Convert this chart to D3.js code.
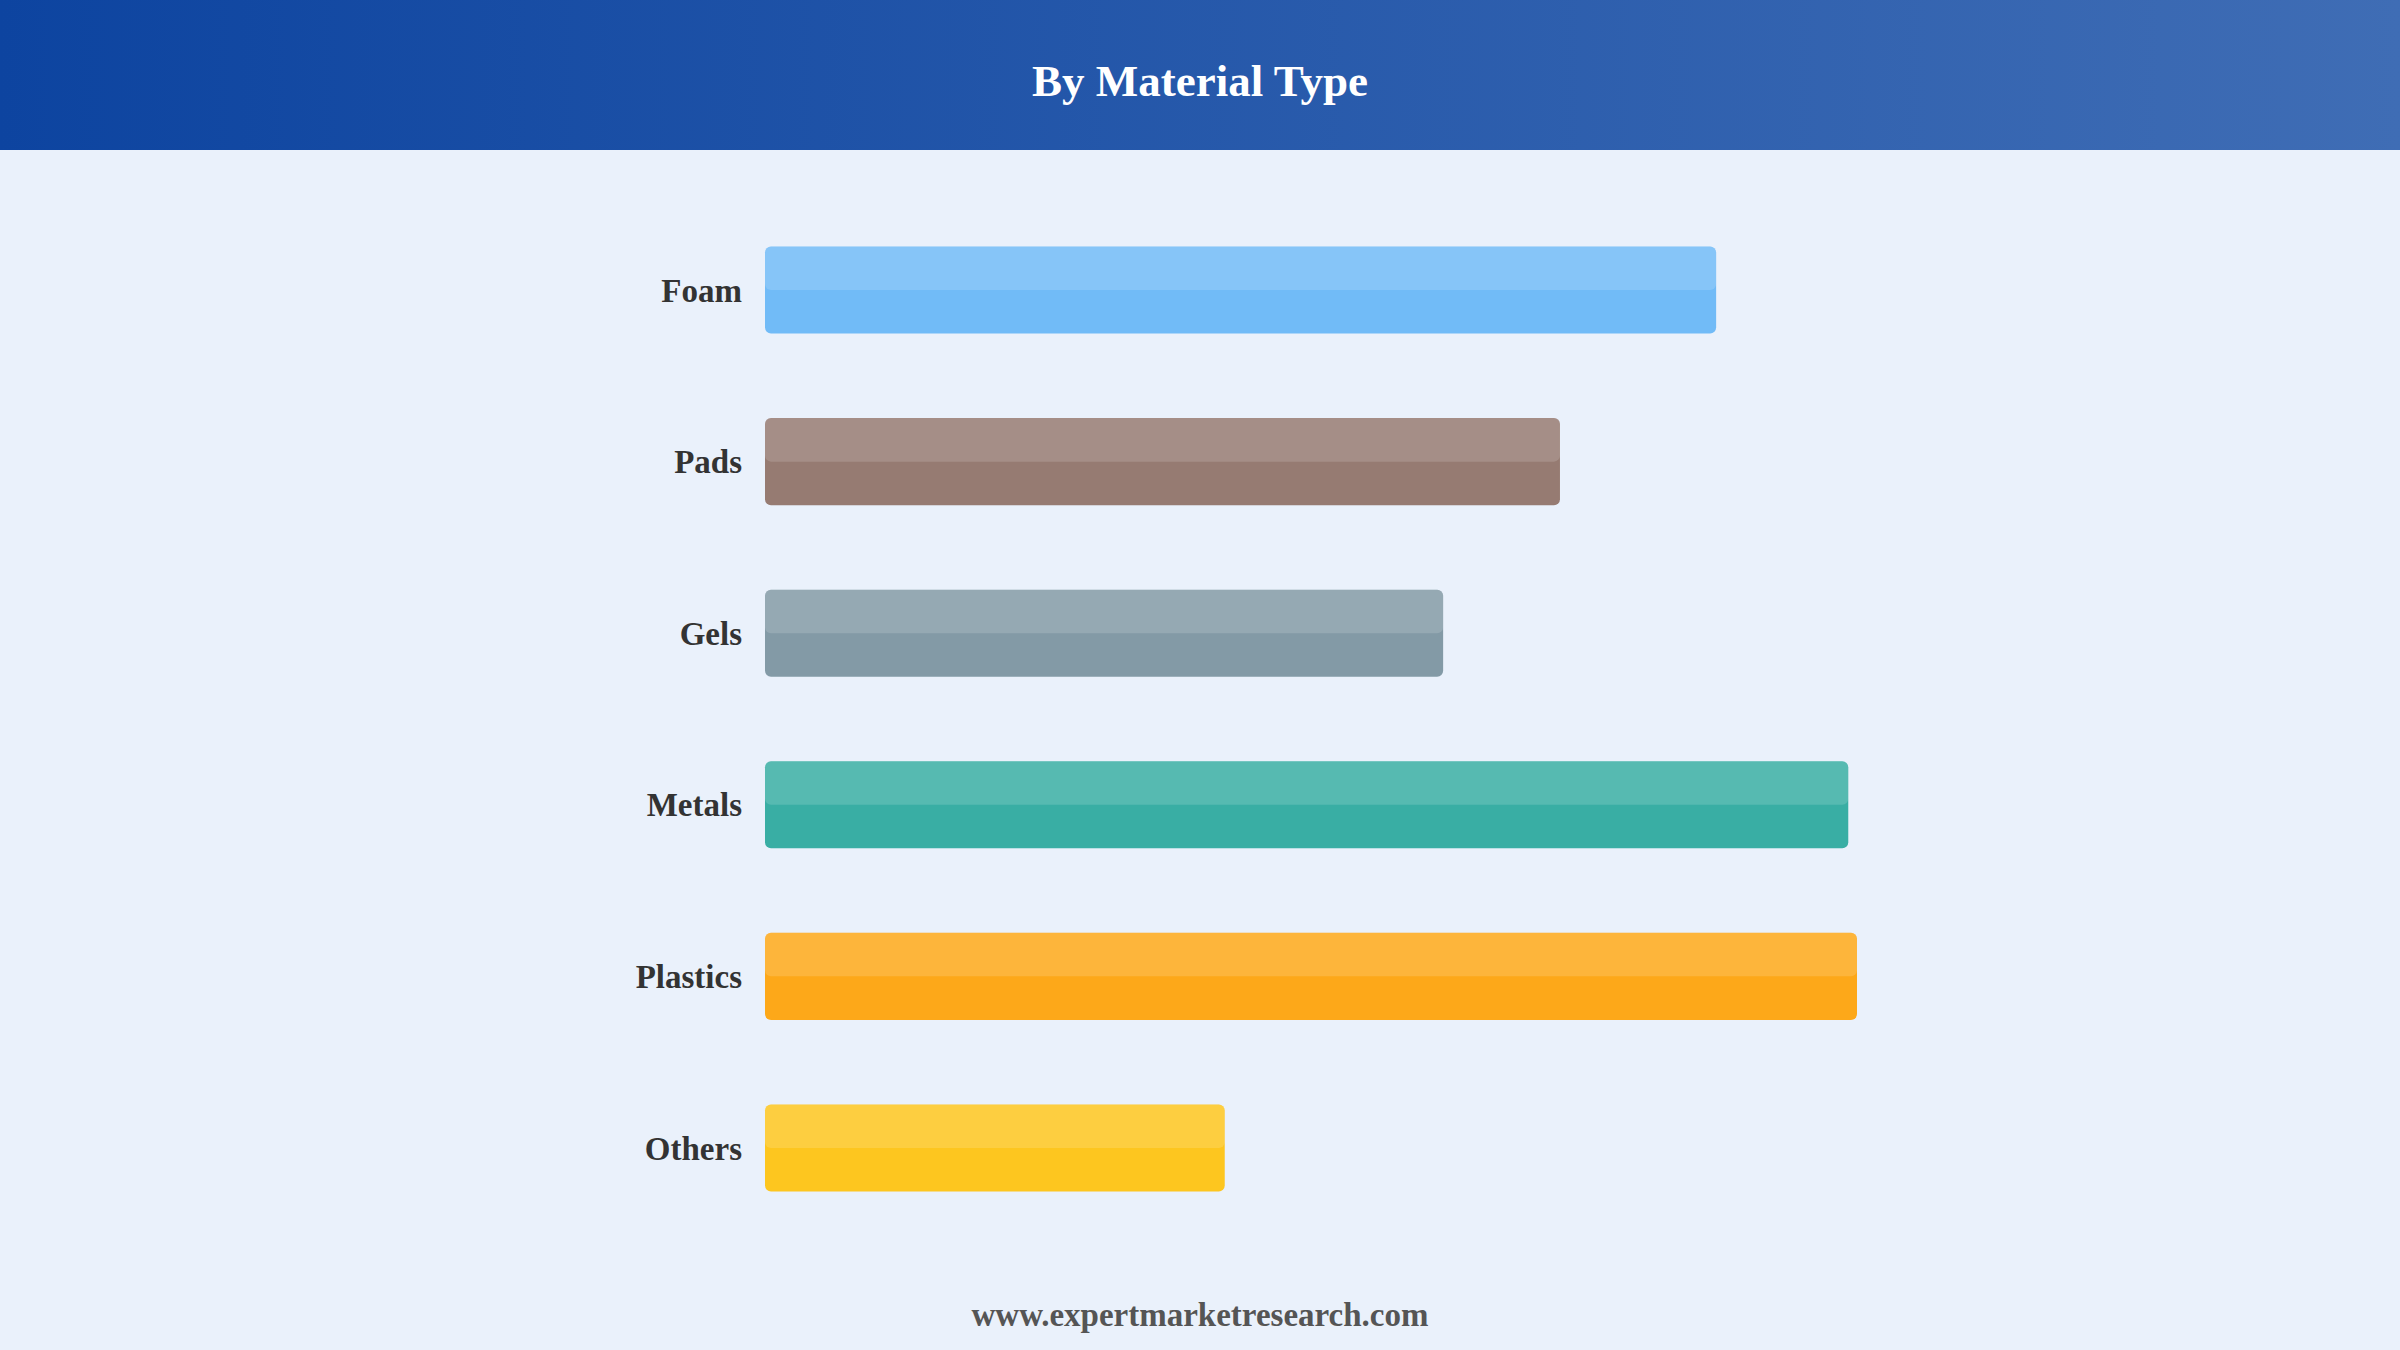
<!DOCTYPE html>
<html>
<head>
<meta charset="utf-8">
<script src="https://cdn.jsdelivr.net/npm/d3@7"></script>
<style>
  html, body { margin: 0; padding: 0; background: #eaf1fb; }
  #chart { width: 2400px; height: 1350px; }
</style>
</head>
<body>
<div id="chart"></div>
<script>

// ------------------------ data ------------------------------

var categories = ["Foam", "Pads", "Gels", "Metals", "Plastics", "Others"];
var values     = [87.1, 72.8, 62.1, 99.2, 100, 42.1];
var colours    = ["#64b5f6", "#8d6e63", "#78909c", "#26a69a", "#ffa000", "#ffc107"];

var titleText  = "By Material Type";
var footerText = "www.expertmarketresearch.com";

// ------------------------ #chart ------------------------------

var build_barChart = function() {

	var svgWidth = 2400, svgHeight = 1350;

	// plot area (bars run from left edge, band rows from top to bottom)
	var margin = { top: 246.5, left: 765 },
		barsBottom = 1191.5;

	var data = categories.map(function(c, i) {
		return { category: c, value: values[i], colour: colours[i] };
	});

	var svg = d3.select("#chart").append("svg")
			.attr("width", svgWidth)
			.attr("height", svgHeight)
			.attr("viewBox", "0 0 " + svgWidth + " " + svgHeight);

	// header band with gradient
	var defs = svg.append("defs");
	var grad = defs.append("linearGradient")
			.attr("id", "header-grad")
			.attr("x1", "0%").attr("x2", "100%").attr("y1", "0%").attr("y2", "0%");
	grad.append("stop").attr("offset", "0%").attr("stop-color", "#0d44a0");
	grad.append("stop").attr("offset", "100%").attr("stop-color", "#3f6db5");

	svg.append("rect")
		.attr("width", svgWidth)
		.attr("height", svgHeight)
		.attr("fill", "#eaf1fb");

	svg.append("rect")
		.attr("width", svgWidth)
		.attr("height", 150)
		.attr("fill", "url(#header-grad)");

	svg.append("text")
		.attr("x", svgWidth / 2)
		.attr("y", 96)
		.attr("text-anchor", "middle")
		.attr("font-family", "'Liberation Serif', 'Times New Roman', serif")
		.attr("font-weight", "bold")
		.attr("font-size", "45px")
		.attr("fill", "#ffffff")
		.text(titleText);

	// set the ranges
	var y = d3.scaleBand()
				.domain(categories)
				.range([0, barsBottom - margin.top])
				.paddingInner(0.4924)
				.paddingOuter(0);

	var x = d3.scaleLinear()
				.domain([0, 100])
				.range([0, 1092]);

	var g = svg.append("g")
			.attr("transform", "translate(" + margin.left + "," + margin.top + ")");

	var bars = g.selectAll(".bar")
			.data(data)
			.enter().append("g")
			.attr("class", "bar")
			.attr("transform", function(d) { return "translate(0," + y(d.category) + ")"; });

	// base bar
	bars.append("rect")
		.attr("x", 0)
		.attr("width", function(d) { return x(d.value); })
		.attr("height", y.bandwidth())
		.attr("rx", 6)
		.attr("fill", function(d) { return d.colour; })
		.attr("fill-opacity", 0.9);

	// lighter upper half
	bars.append("rect")
		.attr("x", 0)
		.attr("width", function(d) { return x(d.value); })
		.attr("height", y.bandwidth() / 2)
		.attr("rx", 6)
		.attr("fill", "#ffffff")
		.attr("fill-opacity", 0.15);

	// add the y Axis
	var axisY = g.append("g")
			.call(d3.axisLeft(y).tickSize(0).tickPadding(23));
	axisY.select(".domain").remove();
	axisY.selectAll("text")
		.attr("font-family", "'Liberation Serif', 'Times New Roman', serif")
		.attr("font-weight", "bold")
		.attr("font-size", "33px")
		.attr("fill", "#333333")
		.attr("dy", "0.35em");

	// footer
	svg.append("text")
		.attr("x", svgWidth / 2)
		.attr("y", 1326)
		.attr("text-anchor", "middle")
		.attr("font-family", "'Liberation Serif', 'Times New Roman', serif")
		.attr("font-weight", "bold")
		.attr("font-size", "33px")
		.attr("fill", "#555555")
		.text(footerText);

}

build_barChart();
</script>
</body>
</html>
